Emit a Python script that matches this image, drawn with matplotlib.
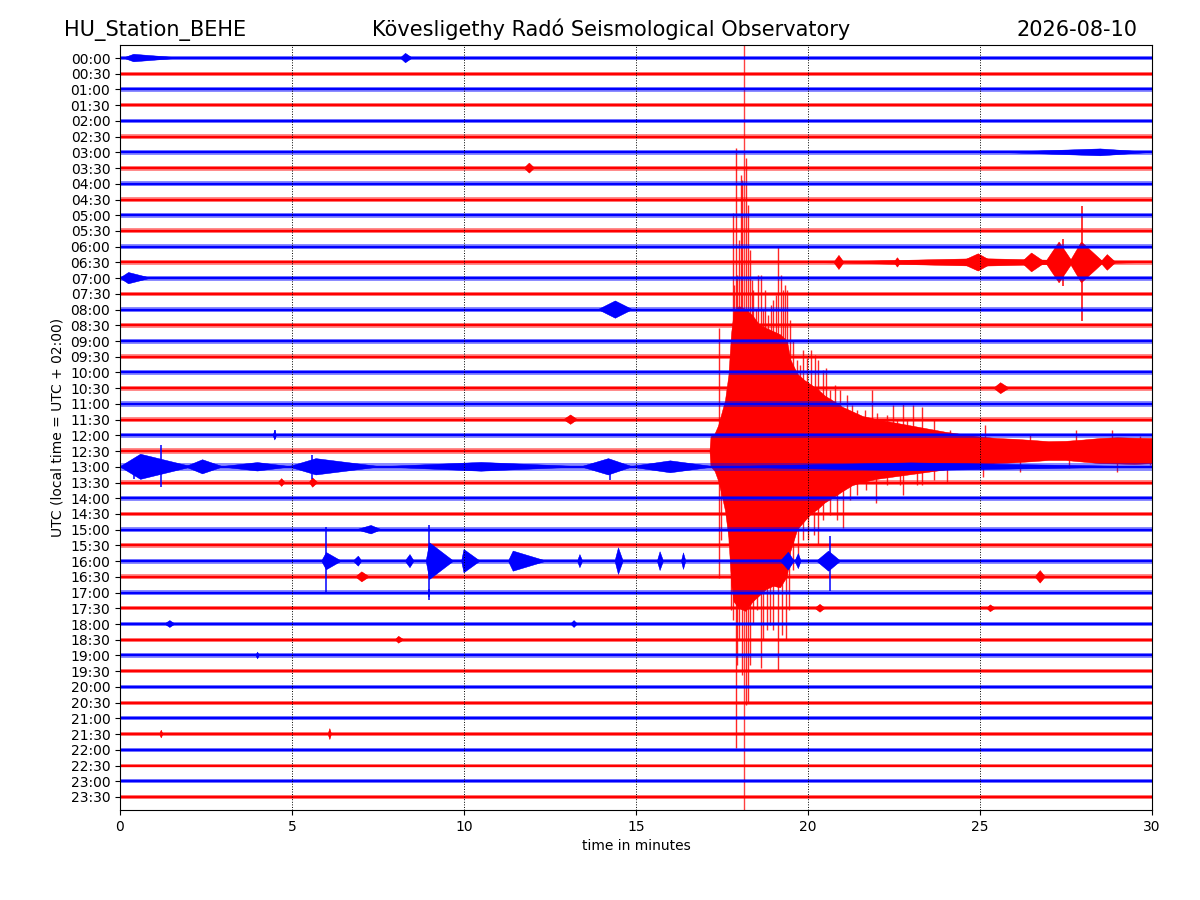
import matplotlib
matplotlib.use("Agg")
import matplotlib.pyplot as plt
from matplotlib.colors import to_rgba

# ---------------- text ----------------
station = "HU_Station_BEHE"
observatory = "Kövesligethy Radó Seismological Observatory"
date_label = "2026-08-10"
x_label = "time in minutes"
y_label = "UTC (local time = UTC + 02:00)"

row_labels = ["00:00", "00:30", "01:00", "01:30", "02:00", "02:30", "03:00", "03:30",
              "04:00", "04:30", "05:00", "05:30", "06:00", "06:30", "07:00", "07:30",
              "08:00", "08:30", "09:00", "09:30", "10:00", "10:30", "11:00", "11:30",
              "12:00", "12:30", "13:00", "13:30", "14:00", "14:30", "15:00", "15:30",
              "16:00", "16:30", "17:00", "17:30", "18:00", "18:30", "19:00", "19:30",
              "20:00", "20:30", "21:00", "21:30", "22:00", "22:30", "23:00", "23:30"]
x_ticks = [0, 5, 10, 15, 20, 25, 30]
trace_colors = ["blue", "red"]

# background noise half-amplitude of each trace (in units of trace spacing)
noise_level = [0.15, 0.13, 0.14, 0.14, 0.14, 0.15, 0.17, 0.16, 0.17, 0.17, 0.17, 0.16,
               0.17, 0.18, 0.16, 0.15, 0.16, 0.17, 0.16, 0.16, 0.17, 0.16, 0.17, 0.16,
               0.16, 0.17, 0.25, 0.15, 0.15, 0.15, 0.14, 0.15, 0.16, 0.16, 0.14, 0.14,
               0.14, 0.13, 0.13, 0.13, 0.12, 0.12, 0.12, 0.12, 0.12, 0.12, 0.12, 0.12]

# small events: trace index, start, peak, end (minutes), half-amplitude
event_row = [0, 0, 6, 7, 14, 16, 21, 23, 24,
             13, 13, 13, 13, 13, 13, 13, 13,
             26, 26, 26, 26, 26, 26, 26, 26,
             27, 27, 30,
             32, 32, 32, 32, 32, 32, 32, 32, 32, 32, 32, 32, 32,
             33, 33, 35, 35, 36, 36, 37, 38, 43, 43]
event_start = [0.1, 8.15, 25.5, 11.75, 0.0, 13.9, 25.4, 12.9, 4.45,
               20.0, 20.75, 22.5, 24.4, 26.2, 26.9, 27.6, 28.5,
               0.0, 1.9, 2.9, 4.9, 7.5, 13.4, 14.8, 17.2,
               4.6, 5.5, 6.88,
               5.86, 6.78, 8.29, 8.9, 9.93, 11.29, 13.3, 14.39, 15.62, 16.32, 19.2, 19.62, 20.25,
               6.85, 26.6, 20.2, 25.2, 1.3, 13.1, 8.0, 3.95, 1.15, 6.05]
event_peak = [0.4, 8.3, 28.5, 11.9, 0.25, 14.4, 25.6, 13.1, 4.5,
              25.0, 20.9, 22.6, 24.95, 26.5, 27.3, 27.95, 28.7,
              0.6, 2.4, 4.0, 5.7, 10.5, 14.2, 16.0, 23.0,
              4.7, 5.6, 7.3,
              6.0, 6.93, 8.43, 9.0, 10.0, 11.43, 13.37, 14.49, 15.7, 16.38, 19.43, 19.72, 20.6,
              7.03, 26.75, 20.35, 25.3, 1.45, 13.2, 8.1, 4.0, 1.2, 6.1]
event_end = [1.8, 8.5, 30.0, 12.05, 0.9, 14.9, 25.85, 13.3, 4.55,
             30.0, 21.05, 22.7, 25.4, 26.9, 27.7, 28.6, 28.95,
             2.1, 3.0, 5.0, 7.6, 13.5, 14.9, 17.3, 30.0,
             4.8, 5.75, 7.6,
             6.44, 7.03, 8.55, 9.7, 10.47, 12.4, 13.45, 14.63, 15.8, 16.45, 19.6, 19.8, 20.95,
             7.25, 26.9, 20.5, 25.45, 1.6, 13.3, 8.25, 4.05, 1.25, 6.15]
event_amp = [0.24, 0.3, 0.22, 0.32, 0.36, 0.55, 0.35, 0.3, 0.3,
             0.24, 0.45, 0.3, 0.55, 0.6, 1.3, 1.3, 0.5,
             0.8, 0.45, 0.27, 0.52, 0.28, 0.52, 0.38, 0.25,
             0.25, 0.3, 0.27,
             0.55, 0.32, 0.42, 1.17, 0.74, 0.64, 0.42, 0.85, 0.6, 0.53, 0.57, 0.48, 0.64,
             0.32, 0.4, 0.25, 0.22, 0.22, 0.22, 0.22, 0.22, 0.25, 0.35]

# single spikes on ordinary traces: trace, time, upward and downward excursion
spike_row = [13, 13, 26, 26, 26, 26, 32, 32, 32, 34, 24]
spike_t = [27.97, 27.4, 1.2, 0.4, 5.58, 14.25, 5.99, 8.97, 20.64, 8.97, 4.5]
spike_up = [3.6, 1.5, 1.4, 0.5, 0.75, 0.4, 2.16, 2.29, 1.6, 0.25, 0.35]
spike_down = [3.7, 1.5, 1.3, 0.75, 0.76, 0.83, 1.97, 2.29, 1.9, 0.45, 0.2]

# the earthquake on the 12:30 trace
quake_row = 25
quake_t = [17.15, 17.18, 17.3, 17.4, 17.5, 17.6, 17.7, 17.78, 17.85, 18.0, 18.2, 18.4,
           18.6, 18.8, 19.0, 19.2, 19.4, 19.5, 19.7, 19.9, 20.1, 20.3, 20.5, 20.8, 21.0,
           21.3, 21.6, 22.0, 22.5, 23.0, 23.5, 24.0, 24.5, 25.0, 25.5, 26.0, 26.5, 27.0,
           27.5, 28.0, 28.5, 29.0, 29.5, 30.0]
quake_up = [0.0, 0.9, 1.1, 1.6, 2.4, 3.2, 4.8, 7.5, 8.8, 9.2, 9.0, 8.6,
            8.0, 7.8, 7.6, 7.4, 7.0, 5.8, 4.9, 4.5, 4.2, 3.9, 3.5, 3.1, 2.8,
            2.5, 2.2, 2.0, 1.8, 1.6, 1.4, 1.2, 1.05, 0.9, 0.8, 0.75, 0.68, 0.6,
            0.62, 0.7, 0.8, 0.85, 0.82, 0.8]
quake_down = [0.0, 1.0, 1.3, 1.9, 2.8, 3.8, 5.5, 8.5, 9.6, 10.0, 10.2, 9.6,
              9.2, 8.8, 8.6, 8.7, 8.0, 6.4, 5.0, 4.5, 4.0, 3.7, 3.3, 2.9, 2.6,
              2.2, 2.0, 1.8, 1.65, 1.5, 1.35, 1.2, 1.05, 0.9, 0.8, 0.75, 0.68, 0.6,
              0.6, 0.7, 0.8, 0.82, 0.85, 0.8]
quake_peak_up_t = [17.41, 17.83, 17.86, 17.90, 17.95, 18.00, 18.04, 18.09, 18.20, 18.26,
                   18.31, 18.36, 18.41, 18.49, 18.56, 18.62, 18.68, 18.75, 18.85, 18.91,
                   18.99, 19.07, 19.14, 19.21, 19.26, 19.33, 19.40, 19.48, 19.55, 19.67,
                   19.77, 19.86, 19.98, 20.09, 20.20, 20.30, 20.43, 20.52, 20.64, 20.79,
                   20.93, 21.12, 21.27, 21.41, 21.66, 21.85, 22.00, 22.29, 22.48, 22.58,
                   22.77, 22.87, 23.06, 23.30, 23.65, 24.13, 25.15, 26.45, 27.80, 28.83,
                   29.65]
quake_peak_up = [7.86, 15.17, 10.56, 19.31, 11.2, 13.42, 17.56, 17.24, 18.67, 15.65,
                 12.79, 10.88, 10.24, 8.97, 11.2, 11.2, 8.97, 10.24, 8.65, 9.29,
                 9.6, 9.92, 12.95, 11.2, 10.24, 10.56, 10.24, 8.33, 7.06, 5.79,
                 5.47, 6.42, 5.95, 6.42, 6.11, 5.79, 5.15, 5.31, 3.88, 4.2,
                 3.88, 3.56, 2.93, 2.61, 2.61, 3.88, 2.45, 2.29, 2.9, 1.97,
                 2.97, 1.97, 2.9, 2.8, 1.97, 1.34, 1.65, 1.0, 1.34, 1.34,
                 0.95]
quake_peak_down_t = [17.41, 17.47, 17.69, 17.75, 17.83, 17.90, 17.95, 18.00, 18.07, 18.21,
                     18.26, 18.31, 18.41, 18.51, 18.62, 18.70, 18.80, 18.90, 18.99, 19.14,
                     19.24, 19.36, 19.46, 19.57, 19.72, 19.86, 20.01, 20.16, 20.30, 20.45,
                     20.64, 20.83, 21.03, 21.22, 21.41, 21.70, 21.99, 22.29, 22.67, 22.77,
                     23.16, 23.30, 23.65, 24.03, 25.10, 26.16, 27.60, 28.97, 29.94]
quake_peak_down = [8.05, 5.66, 5.98, 10.11, 10.75, 18.86, 13.61, 12.02, 14.25, 16.16,
                   16.0, 13.61, 10.91, 10.11, 13.77, 12.02, 11.39, 11.07, 11.39, 13.93,
                   11.70, 12.02, 10.11, 7.57, 7.25, 5.66, 5.66, 5.34, 5.98, 4.39,
                   4.07, 4.39, 4.87, 3.12, 2.8, 2.48, 3.3, 2.16, 2.16, 2.8,
                   2.16, 2.16, 1.84, 2.0, 1.65, 1.34, 1.1, 1.34, 0.9]
quake_max_t = 18.15
quake_max_amp = 30.0

# ---------------- figure ----------------
plt.rcParams["hatch.linewidth"] = 1.0
fig = plt.figure(figsize=(12, 9), dpi=100)
ax = fig.add_axes([0.1, 0.1, 0.86, 0.85])
n_rows = len(row_labels)
t_min, t_max = x_ticks[0], x_ticks[-1]
HATCH = "|" * 22

for r in range(n_rows):
    c = trace_colors[r % 2]
    # red traces first, blue traces on top of them
    z = (2.0 if c == "red" else 2.2) + r * 0.003
    nl = noise_level[r]
    ax.fill_between([t_min, t_max], [r - nl, r - nl], [r + nl, r + nl],
                    color=c, alpha=0.45, lw=0, zorder=z)
    ax.plot([t_min, t_max], [r, r], color=c, lw=1.7, zorder=z, solid_capstyle="butt")
    for er, t0, tp, t1, a in zip(event_row, event_start, event_peak, event_end, event_amp):
        if er == r:
            ax.fill([t0, tp, t1, tp], [r, r - a, r, r + a], facecolor=to_rgba(c, 0.5),
                    edgecolor=c, lw=0.3, hatch=HATCH, zorder=z)
    for sr, st, su, sd in zip(spike_row, spike_t, spike_up, spike_down):
        if sr == r:
            ax.vlines(st, r - su, r + sd, color=c, lw=1.1, zorder=z)
    if r == quake_row:
        ax.fill_between(quake_t, [r - u for u in quake_up], [r + d for d in quake_down],
                        facecolor=to_rgba(c, 0.45), edgecolor=c, lw=0.3, hatch=HATCH,
                        zorder=z)
        ax.vlines(quake_peak_up_t, r, [r - u for u in quake_peak_up],
                  color=c, lw=1.0, alpha=0.85, zorder=z)
        ax.vlines(quake_peak_down_t, r, [r + d for d in quake_peak_down],
                  color=c, lw=1.0, alpha=0.85, zorder=z)
        ax.vlines(quake_max_t, r - quake_max_amp, r + quake_max_amp,
                  color=c, lw=1.0, alpha=0.75, zorder=z)

ax.set_xlim(t_min, t_max)
ax.set_ylim(n_rows - 1 + 0.83, -0.83)
ax.set_xticks(x_ticks)
ax.set_yticks(range(n_rows))
ax.set_yticklabels(row_labels)
ax.set_axisbelow(False)
ax.grid(axis="x", color="black", linestyle=":", linewidth=0.7)
ax.set_xlabel(x_label)
ax.set_ylabel(y_label)

fig.text(64 / 1200, 1 - 36 / 900, station, fontsize=15, ha="left", va="baseline")
fig.text(611 / 1200, 1 - 36 / 900, observatory, fontsize=15, ha="center", va="baseline")
fig.text(1137 / 1200, 1 - 36 / 900, date_label, fontsize=15, ha="right", va="baseline")

fig.savefig("out.png", dpi=100)
